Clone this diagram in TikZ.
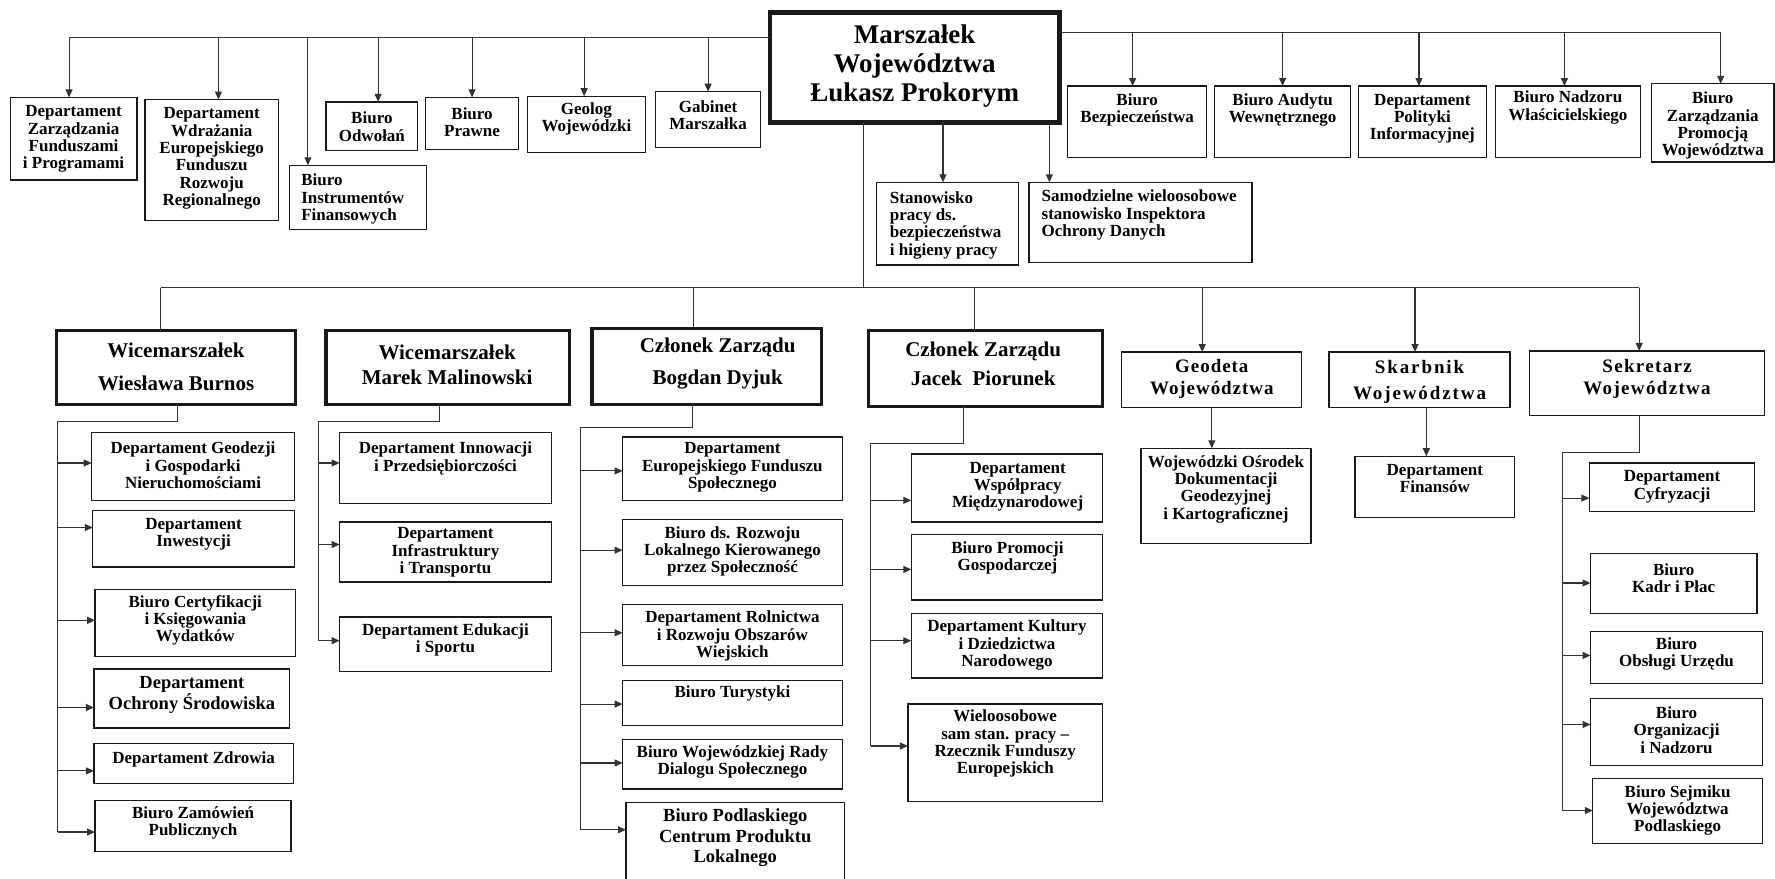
\documentclass[tikz,border=0pt]{standalone}
\usepackage{fontspec}
\setmainfont{Liberation Serif}
\usetikzlibrary{arrows.meta,calc,fit}

\newcommand\fSm{\fontsize{17}{17.3}\selectfont\bfseries}
\newcommand\fMid{\fontsize{18.5}{20.5}\selectfont\bfseries}
\newcommand\fLev{\fontsize{21}{25}\selectfont\bfseries}
\newcommand\fMar{\fontsize{27}{29}\selectfont\bfseries}
\newcommand\fGeo{\fontsize{19}{22}\selectfont\bfseries\addfontfeatures{LetterSpace=5}}
\newcommand\fSka{\fontsize{19}{26}\selectfont\bfseries\addfontfeatures{LetterSpace=10}}
\newcommand\fSek{\fontsize{19}{22}\selectfont\bfseries\addfontfeatures{LetterSpace=7}}

% [box opts]{text opts}{name}{x1}{y1}{x2}{y2}{text pos}{text}
\newcommand\orgbox[9][]{%
  \coordinate (#3-a) at (#4,#5);
  \coordinate (#3-b) at (#6,#7);
  \node[boxst,#1,fit=(#3-a)(#3-b)] (#3) {};
  \node[txtst,#2] (#3-t) at (#8) {#9};
}

\tikzset{
  boxst/.style={draw=black!90, line width=1.3pt, inner sep=0pt, outer sep=0pt, rectangle},
  thickbox/.style={line width=3.2pt},
  mbox/.style={line width=4.5pt},
  txtst/.style={inner sep=0pt, align=center, font=\fSm, text=black},
  ln/.style={draw=black!80, line width=1.1pt},
  arr/.style={ln, -{Triangle[length=8pt,width=7pt]}},
}

\begin{document}
\begin{tikzpicture}[x=1.13202pt,y=-1.13202pt]
\useasboundingbox (0,0) rectangle (1568,776);

% ---------- top ----------
\orgbox[mbox]{font=\fMar}{M}{680}{11}{936}{108}{808,58}{Marszałek\\Województwa\\Łukasz Prokorym}

\orgbox{}{b1}{9}{86}{121}{159}{65,123}{Departament\\Zarządzania\\Funduszami\\i Programami}
\orgbox{}{b2}{128}{88}{246}{195}{187,140}{Departament\\Wdrażania\\Europejskiego\\Funduszu\\Rozwoju\\Regionalnego}
\orgbox{anchor=west,align=left}{b3}{256}{146}{377}{203}{266,176}{Biuro\\Instrumentów\\Finansowych}
\orgbox{}{b4}{288}{90}{369}{133}{328.5,112}{Biuro\\Odwołań}
\orgbox{}{b5}{376}{86}{458}{132}{417,108}{Biuro\\Prawne}
\orgbox{}{b6}{466}{85}{570}{135}{518,105}{Geolog\\Wojewódzki}
\orgbox{}{b7}{579}{81}{672}{130}{625.5,102}{Gabinet\\Marszałka}

\orgbox{}{r1}{943}{76}{1066}{139}{1004.5,97}{Biuro\\Bezpieczeństwa}
\orgbox{}{r2}{1073}{76}{1193}{139}{1133,97}{Biuro Audytu\\Wewnętrznego}
\orgbox{}{r3}{1200}{76}{1313}{139}{1256.5,105}{Departament\\Polityki\\Informacyjnej}
\orgbox{}{r4}{1321}{76}{1449}{139}{1385,95}{Biuro Nadzoru\\Właścicielskiego}
\orgbox{}{r5}{1459}{74}{1567}{143}{1513,111}{Biuro\\Zarządzania\\Promocją\\Województwa}

\orgbox{anchor=west,align=left}{s1}{774}{161}{900}{234}{786,199}{Stanowisko\\pracy ds.\\bezpieczeństwa\\i higieny pracy}
\orgbox{anchor=west,align=left}{s2}{909}{161}{1106}{232}{920,190}{Samodzielne wieloosobowe\\stanowisko Inspektora\\Ochrony Danych}

% top connectors
\coordinate (tl) at (0,33);
\coordinate (tr) at (0,29);
\coordinate (b1x) at ($(b1.north)+(-4,0)$);
\coordinate (b2x) at ($(b2.north)+(6,0)$);
\coordinate (b3x) at ($(b3.north west)+(16,0)$);
\coordinate (b4x) at ($(b4.north)+(5.5,0)$);
\coordinate (b5x) at (b5.north);
\coordinate (b6x) at ($(b6.north)+(-2,0)$);
\coordinate (b7x) at (b7.north);
\draw[ln] (M.west |- tl) -- (b1x |- tl);
\foreach \c in {b1x,b2x,b3x,b4x,b5x,b6x,b7x} \draw[arr] (\c |- tl) -- (\c);

\coordinate (r1x) at ($(r1.north)+(-4,0)$);
\coordinate (r2x) at (r2.north);
\coordinate (r3x) at ($(r3.north)+(-3,0)$);
\coordinate (r4x) at ($(r4.north)+(-3,0)$);
\coordinate (r5x) at ($(r5.north)+(7,0)$);
\draw[ln] (M.east |- tr) -- (r5x |- tr);
\foreach \c in {r1x,r2x,r3x,r4x,r5x} \draw[arr] (\c |- tr) -- (\c);

\coordinate (s1x) at ($(s1.north)+(-4,0)$);
\coordinate (s2x) at ($(s2.north west)+(18,0)$);
\draw[arr] (M.south -| s1x) -- (s1x);
\draw[arr] (M.south -| s2x) -- (s2x);

% ---------- level 2 ----------
\orgbox[thickbox]{font=\fLev}{W1}{50}{292}{261}{357}{155.5,324}{Wicemarszałek\\[8pt]Wiesława Burnos}
\orgbox[thickbox]{font=\fLev}{W2}{288}{292}{503}{357}{395,322}{Wicemarszałek\\Marek Malinowski}
\orgbox[thickbox]{font=\fLev}{C1}{523}{290}{726}{357}{634,321.5}{Członek Zarządu\\[7pt]Bogdan Dyjuk}
\orgbox[thickbox]{font=\fLev}{C2}{767}{292}{974}{359}{868.5,321}{Członek Zarządu\\[4pt]Jacek\ \ Piorunek}
\orgbox{font=\fGeo}{G}{991}{311}{1150}{360}{1070.5,335}{Geodeta\\Województwa}
\orgbox{font=\fSka}{S}{1174}{311}{1334}{360}{1254,337}{Skarbnik\\Województwa}
\orgbox{font=\fSek}{K}{1351}{310}{1559}{367}{1455,335}{Sekretarz\\Województwa}

\coordinate (hub) at (763,254);
\draw[ln] (M.south -| hub) -- (hub);
\coordinate (w1d) at ($(W1.north west)+(92,0)$);
\coordinate (c1d) at ($(C1.north)+(-12,0)$);
\coordinate (c2d) at ($(C2.north)+(-10,0)$);
\coordinate (gd) at ($(G.north)+(-8.5,0)$);
\coordinate (sd) at ($(S.north)+(-4,0)$);
\coordinate (kd) at ($(K.north)+(-7,0)$);
\draw[ln] (w1d |- hub) -- (kd |- hub);
\foreach \c in {w1d,c1d,c2d} \draw[ln] (\c |- hub) -- (\c);
\foreach \c in {gd,sd,kd} \draw[arr] (\c |- hub) -- (\c);

% ---------- level 3: Burnos ----------
\orgbox{}{d1}{81}{382}{260}{442}{170.5,411}{Departament Geodezji\\i Gospodarki\\Nieruchomościami}
\orgbox{}{d2}{82}{451}{260}{501}{171,472}{Departament\\Inwestycji}
\orgbox{}{d3}{84}{521}{261}{580}{172.5,548}{Biuro Certyfikacji\\i Księgowania\\Wydatków}
\orgbox{font=\fMid}{d4}{83}{591}{256}{643}{169.5,614}{Departament\\Ochrony Środowiska}
\orgbox{}{d5}{83}{657}{259}{692}{171,671}{Departament Zdrowia}
\orgbox{}{d6}{84}{707}{257}{752}{170.5,727}{Biuro Zamówień\\Publicznych}
\coordinate (w1k) at (157,372);
\coordinate (w1v) at (51,372);
\draw[ln] (W1.south -| w1k) -- (w1k) -- (w1v) -- (w1v |- 0,735);
\foreach \n/\y in {d1/409,d2/466,d3/548,d4/625,d5/681,d6/735}
  \draw[arr] (w1v |- 0,\y) -- (\n.west |- 0,\y);

% ---------- Malinowski ----------
\orgbox{}{e1}{300}{382}{487}{445}{393.5,405}{Departament Innowacji\\i Przedsiębiorczości}
\orgbox{}{e2}{300}{461}{487}{514}{393.5,488}{Departament\\Infrastruktury\\i Transportu}
\orgbox{}{e3}{300}{545}{487}{593}{393.5,565}{Departament Edukacji\\i Sportu}
\coordinate (w2k) at (388,372);
\coordinate (w2v) at (281,372);
\draw[ln] (W2.south -| w2k) -- (w2k) -- (w2v) -- (w2v |- 0,566);
\foreach \n/\y in {e1/409,e2/481,e3/566}
  \draw[arr] (w2v |- 0,\y) -- (\n.west |- 0,\y);

% ---------- Dyjuk ----------
\orgbox{}{f1}{550}{386}{744}{442}{647,413}{Departament\\Europejskiego Funduszu\\Społecznego}
\orgbox{}{f2}{550}{459}{744}{517}{647,487}{Biuro ds. Rozwoju\\Lokalnego Kierowanego\\przez Społeczność}
\orgbox{}{f3}{550}{534}{744}{588}{647,562}{Departament Rolnictwa\\i Rozwoju Obszarów\\Wiejskich}
\orgbox{}{f4}{550}{601}{744}{641}{647,613}{Biuro Turystyki}
\orgbox{}{f5}{550}{653}{744}{697}{647,673}{Biuro Wojewódzkiej Rady\\Dialogu Społecznego}
\orgbox{font=\fMid}{f6}{553}{709}{746}{782}{649.5,740}{Biuro Podlaskiego\\Centrum Produktu\\Lokalnego}
\coordinate (c1k) at (612,378);
\coordinate (c1v) at (513,378);
\draw[ln] (C1.south -| c1k) -- (c1k) -- (c1v) -- (c1v |- 0,733);
\foreach \n/\y in {f1/416,f2/486,f3/559,f4/622,f5/674,f6/733}
  \draw[arr] (c1v |- 0,\y) -- (\n.west |- 0,\y);

% ---------- Piorunek ----------
\orgbox{}{g1}{805}{401}{974}{461}{899,430}{Departament\\Współpracy\\Międzynarodowej}
\orgbox{}{g2}{805}{472}{974}{530}{890,493}{Biuro Promocji\\Gospodarczej}
\orgbox{}{g3}{805}{542}{974}{599}{889.5,570}{Departament Kultury\\i Dziedzictwa\\Narodowego}
\orgbox{}{g4}{802}{622}{974}{708}{888,657}{Wieloosobowe\\sam stan. pracy –\\Rzecznik Funduszy\\Europejskich}
\coordinate (c2k) at (851,392);
\coordinate (c2v) at (769,392);
\draw[ln] (C2.south -| c2k) -- (c2k) -- (c2v) -- (c2v |- 0,659);
\foreach \n/\y in {g1/442,g2/503,g3/566,g4/659}
  \draw[arr] (c2v |- 0,\y) -- (\n.west |- 0,\y);

% ---------- Geodeta, Skarbnik ----------
\orgbox{}{h1}{1008}{396}{1158}{480}{1083,432}{Wojewódzki Ośrodek\\Dokumentacji\\Geodezyjnej\\i Kartograficznej}
\orgbox{}{h2}{1197}{403}{1338}{457}{1267.5,423}{Departament\\Finansów}
\draw[arr] (G.south) -- (G.south |- h1.north);
\coordinate (sx) at ($(S.south)+(6,0)$);
\draw[arr] (sx) -- (sx |- h2.north);

% ---------- Sekretarz ----------
\orgbox{}{k1}{1404}{409}{1550}{452}{1477,430}{Departament\\Cyfryzacji}
\orgbox{}{k2}{1405}{489}{1552}{542}{1478.5,511}{Biuro\\Kadr i Płac}
\orgbox{}{k3}{1405}{558}{1557}{604}{1481,578}{Biuro\\Obsługi Urzędu}
\orgbox{}{k4}{1405}{617}{1557}{676}{1481,645}{Biuro\\Organizacji\\i Nadzoru}
\orgbox{}{k5}{1407}{688}{1557}{745}{1482,716}{Biuro Sejmiku\\Województwa\\Podlaskiego}
\coordinate (kk) at (1448,400);
\coordinate (kv) at (1380,400);
\draw[ln] (K.south -| kk) -- (kk) -- (kv) -- (kv |- 0,716);
\foreach \n/\y in {k1/440,k2/515,k3/579,k4/640,k5/716}
  \draw[arr] (kv |- 0,\y) -- (\n.west |- 0,\y);

\end{tikzpicture}
\end{document}
